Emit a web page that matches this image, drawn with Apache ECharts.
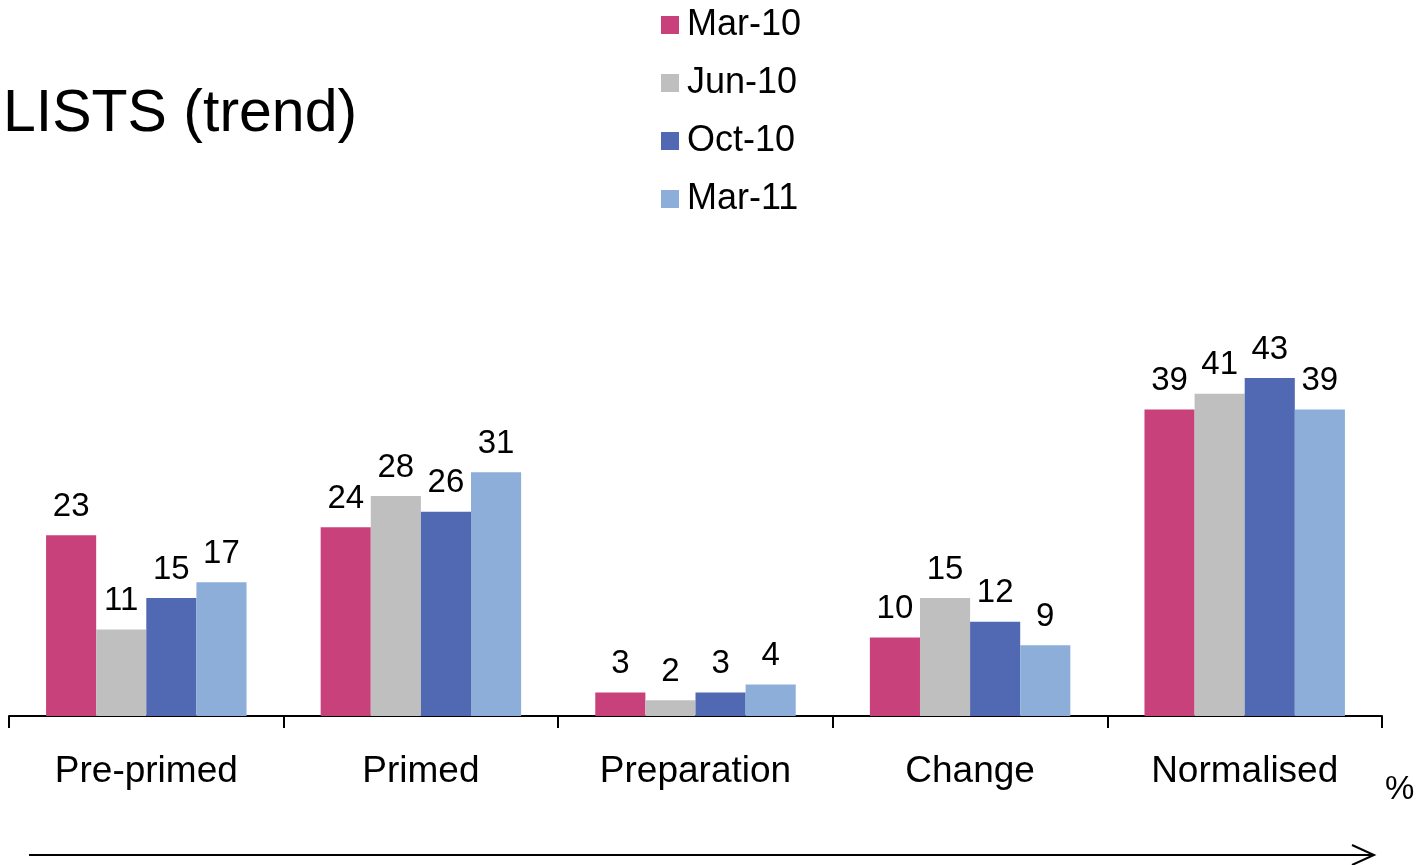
<!DOCTYPE html>
<html>
<head>
<meta charset="utf-8">
<script src="https://cdn.jsdelivr.net/npm/echarts@6/dist/echarts.min.js"></script>
<style>html,body{margin:0;padding:0;background:#fff}#c{width:1418px;height:865px}</style>
</head>
<body>
<div id="c"></div>
<script>
var categories = ['Pre-primed', 'Primed', 'Preparation', 'Change', 'Normalised'];
var seriesNames = ['Mar-10', 'Jun-10', 'Oct-10', 'Mar-11'];
var mar10 = [23, 24, 3, 10, 39];
var jun10 = [11, 28, 2, 15, 41];
var oct10 = [15, 26, 3, 12, 43];
var mar11 = [17, 31, 4, 9, 39];
var colors = ['#C8417B', '#BFBFBF', '#5169B3', '#8DAED9'];

var FONT = 'Liberation Sans, Arial, sans-serif';
var allData = [mar10, jun10, oct10, mar11];
var chart = echarts.init(document.getElementById('c'));
chart.setOption({
  animation: false,
  color: colors,
  title: {
    text: 'LISTS (trend)',
    left: -2, top: 80,
    textStyle: { fontFamily: FONT, fontSize: 59, fontWeight: 'normal', color: '#000' }
  },
  legend: {
    orient: 'vertical',
    left: 656, top: 2,
    itemWidth: 18, itemHeight: 18,
    itemGap: 22,
    icon: 'rect',
    textStyle: { fontFamily: FONT, fontSize: 36, color: '#000', padding: [0, 0, 0, 3] },
    data: seriesNames
  },
  grid: { left: 9, right: 36, top: 378, bottom: 149, containLabel: false },
  xAxis: {
    type: 'category',
    data: categories,
    axisLine: { lineStyle: { color: '#000', width: 2 } },
    axisTick: { show: true, length: 12, lineStyle: { color: '#000', width: 2 } },
    axisLabel: { fontFamily: FONT, fontSize: 37, color: '#000', margin: 37 }
  },
  yAxis: {
    type: 'value', min: 0, max: 43,
    show: false,
    splitLine: { show: false }
  },
  graphic: [
    { type: 'text', left: 1385, top: 773, style: { text: '%', font: '33px ' + FONT, fill: '#000' } },
    { type: 'line', shape: { x1: 29, y1: 855, x2: 1374, y2: 855 }, style: { stroke: '#000', lineWidth: 2 } },
    { type: 'polyline', shape: { points: [[1352, 845], [1374, 855], [1352, 865]] }, style: { stroke: '#000', lineWidth: 2, fill: null } }
  ],
  series: seriesNames.map(function (n, i) {
    return {
      name: n,
      type: 'bar',
      data: allData[i],
      barGap: '0%',
      barCategoryGap: '27%',
      label: { show: true, position: 'top', distance: 12, fontFamily: FONT, fontSize: 33, color: '#000' }
    };
  })
});
</script>
</body>
</html>
